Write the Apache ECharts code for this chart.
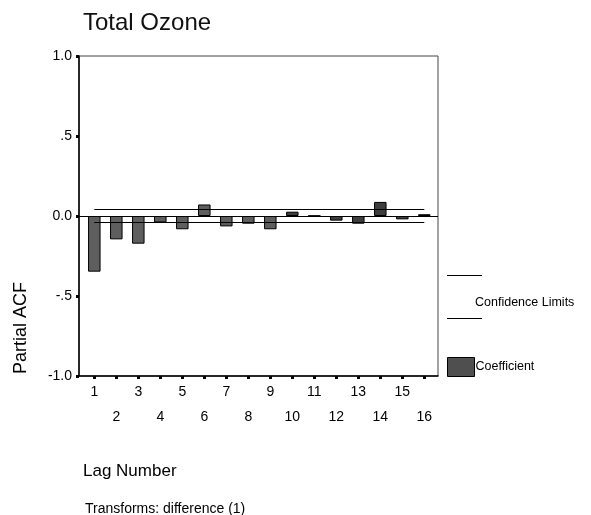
<!DOCTYPE html>
<html>
<head>
<meta charset="utf-8">
<title>Total Ozone</title>
<script src="https://cdn.jsdelivr.net/npm/echarts@6/dist/echarts.min.js"></script>
<style>
  html, body { margin: 0; padding: 0; background: #fff; }
  #chart { width: 591px; height: 515px; }
</style>
</head>
<body>
<div id="chart"></div>
<script>
// lags and partial autocorrelations
const lags = ['1', '2', '3', '4', '5', '6', '7', '8', '9', '10', '11', '12', '13', '14', '15', '16'];
const pacf = [-0.348, -0.146, -0.173, -0.040, -0.083, 0.072, -0.065, -0.048, -0.083, 0.027, 0.002, -0.029, -0.048, 0.088, -0.021, 0.011];
const confLimits = [0.042, -0.040];
const yTicks = [-1, -0.5, 0, 0.5, 1];
const yTickLabels = ['-1.0', '-.5', '0.0', '.5', '1.0'];

const font = '"Liberation Sans", Arial, sans-serif';
const chart = echarts.init(document.getElementById('chart'));

let limitLines = confLimits.map(v => [
  {coord: [lags[0], v]},
  {coord: [lags[lags.length - 1], v]}
]);

chart.setOption({
  animation: false,
  textStyle: {fontFamily: font, color: '#000'},
  title: [
    {text: 'Total Ozone', left: 78, top: 6, textStyle: {fontSize: 24, fontWeight: 'normal', color: '#111', fontFamily: font}},
    {text: 'Lag Number', left: 78, top: 458, textStyle: {fontSize: 17, fontWeight: 'normal', color: '#000', fontFamily: font}},
    {text: 'Transforms: difference (1)', left: 80, top: 497, textStyle: {fontSize: 14, fontWeight: 'normal', color: '#000', fontFamily: font}}
  ],
  legend: {
    left: 447, top: 357,
    padding: 0,
    orient: 'vertical',
    icon: 'rect',
    itemWidth: 27, itemHeight: 19,
    textStyle: {fontSize: 12.5, color: '#000', fontFamily: font, padding: [0, 0, 0, -4]},
    data: [{name: 'Coefficient', itemStyle: {color: '#4f4f4f', borderColor: '#000', borderWidth: 1}}]
  },
  grid: [
    // frame grid
    {left: 79, top: 56, width: 359, height: 320, show: true, borderColor: '#444', borderWidth: 1},
    // bar grid, a bit inset like the original
    {left: 83.3, top: 56, width: 352, height: 320}
  ],
  xAxis: [
    {
      gridIndex: 0, type: 'value', min: 0, max: 1,
      axisLine: {show: true, onZero: false, lineStyle: {color: '#000', width: 1.5}},
      axisTick: {show: false}, axisLabel: {show: false}, splitLine: {show: false}
    },
    {
      gridIndex: 1, type: 'category', data: lags,
      axisLine: {show: false, onZero: false},
      axisTick: {show: true, alignWithLabel: true, length: 3, lineStyle: {color: '#000', width: 3}},
      axisLabel: {
        margin: 3.5, fontSize: 14, lineHeight: 25, color: '#000', interval: 0,
        formatter: (v, i) => (i % 2 === 1 ? '\n' + v : v)
      }
    }
  ],
  yAxis: [
    {
      gridIndex: 0, type: 'value', min: -1, max: 1, interval: 0.5,
      axisLine: {show: true, onZero: false, lineStyle: {color: '#000', width: 1.5}},
      axisTick: {show: true, length: 3, lineStyle: {color: '#000', width: 3}},
      axisLabel: {
        margin: 7, fontSize: 14, color: '#000',
        formatter: v => yTickLabels[yTicks.indexOf(v)]
      },
      splitLine: {show: true, lineStyle: {color: ['transparent', 'transparent', '#000', 'transparent', 'transparent'], width: 1}}
    },
    {
      gridIndex: 1, type: 'value', min: -1, max: 1, interval: 0.5,
      show: false, splitLine: {show: false}
    }
  ],
  graphic: [
    {type: 'text', x: 21, y: 328, rotation: Math.PI / 2,
     style: {text: 'Partial ACF', fontSize: 18, fontFamily: font, fill: '#000', align: 'center', verticalAlign: 'middle'}},
    {type: 'line', shape: {x1: 447, y1: 275.5, x2: 482, y2: 275.5}, style: {stroke: '#000', lineWidth: 1}},
    {type: 'line', shape: {x1: 447, y1: 318.5, x2: 482, y2: 318.5}, style: {stroke: '#000', lineWidth: 1}},
    {type: 'text', x: 475, y: 303,
     style: {text: 'Confidence Limits', fontSize: 12.5, fontFamily: font, fill: '#000', align: 'left', verticalAlign: 'middle'}}
  ],
  series: [
    {
      name: 'Coefficient',
      type: 'bar',
      xAxisIndex: 1, yAxisIndex: 1,
      data: pacf,
      barWidth: 12.5,
      itemStyle: {
        color: p => (p.dataIndex < 9 ? '#5e5e5e' : '#3e3e3e'),
        borderColor: '#000',
        borderWidth: 1
      },
      markLine: {
        silent: true,
        symbol: 'none',
        label: {show: false},
        lineStyle: {color: '#000', width: 1, type: 'solid'},
        data: limitLines
      }
    }
  ]
});
</script>
</body>
</html>
